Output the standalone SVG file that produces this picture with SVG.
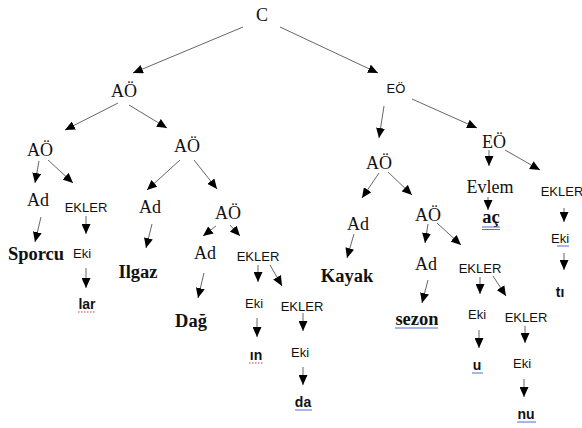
<svg xmlns="http://www.w3.org/2000/svg" width="582" height="428" viewBox="0 0 582 428">
  <defs>
    <marker id="head" markerUnits="userSpaceOnUse" markerWidth="10" markerHeight="9" refX="10" refY="4.5" orient="auto">
      <path d="M0,0 L10,4.5 L0,9 Z" fill="#000"/>
    </marker>
    <style>
      .s { font-family: "Liberation Serif", "Times New Roman", serif; font-size: 18px; fill: #111; text-anchor: middle; }
      .sb { font-family: "Liberation Serif", "Times New Roman", serif; font-size: 18.5px; font-weight: bold; fill: #111; text-anchor: middle; }
      .k { font-family: "Liberation Sans", Arial, sans-serif; font-size: 13px; fill: #111; text-anchor: middle; }
      .kb { font-family: "Liberation Sans", Arial, sans-serif; font-size: 14px; font-weight: bold; fill: #111; text-anchor: middle; }
      .edges line { stroke: #555; stroke-width: 0.9; marker-end: url(#head); }
      .spell { stroke: #d33; stroke-width: 1; stroke-dasharray: 1.5 1.5; fill: none; }
      .gram { stroke: #4a6fd6; stroke-width: 1; fill: none; }
    </style>
  </defs>
  <rect width="582" height="428" fill="#fff"/>

  <g id="edges" class="edges">
    <line x1="243" y1="27" x2="133" y2="73"/>
    <line x1="280" y1="27" x2="378" y2="73"/>
    <line x1="118" y1="103" x2="65" y2="130"/>
    <line x1="129" y1="105" x2="167" y2="128"/>
    <line x1="384" y1="106" x2="379" y2="138"/>
    <line x1="412" y1="99" x2="477" y2="128"/>
    <line x1="39" y1="161" x2="35" y2="183"/>
    <line x1="48" y1="160" x2="73" y2="183"/>
    <line x1="41" y1="217" x2="35" y2="242"/>
    <line x1="86" y1="216" x2="86" y2="234"/>
    <line x1="86" y1="268" x2="86" y2="288"/>
    <line x1="180" y1="160" x2="147" y2="190"/>
    <line x1="194" y1="160" x2="217" y2="189"/>
    <line x1="152" y1="224" x2="146" y2="248"/>
    <line x1="216" y1="226" x2="203" y2="236"/>
    <line x1="230" y1="225" x2="240" y2="236"/>
    <line x1="204" y1="273" x2="198" y2="298"/>
    <line x1="258" y1="265" x2="258" y2="282"/>
    <line x1="270" y1="265" x2="282" y2="286"/>
    <line x1="257" y1="318" x2="257" y2="337"/>
    <line x1="303" y1="313" x2="303" y2="331"/>
    <line x1="303" y1="367" x2="303" y2="385"/>
    <line x1="379" y1="173" x2="362" y2="198"/>
    <line x1="388" y1="172" x2="412" y2="195"/>
    <line x1="354" y1="234" x2="347" y2="258"/>
    <line x1="428" y1="224" x2="425" y2="243"/>
    <line x1="437" y1="223" x2="461" y2="245"/>
    <line x1="428" y1="280" x2="422" y2="303"/>
    <line x1="480" y1="277" x2="480" y2="294"/>
    <line x1="493" y1="276" x2="506" y2="296"/>
    <line x1="479" y1="330" x2="479" y2="348"/>
    <line x1="525" y1="326" x2="525" y2="343"/>
    <line x1="524" y1="379" x2="524" y2="397"/>
    <line x1="489" y1="150" x2="489" y2="166"/>
    <line x1="505" y1="150" x2="540" y2="170"/>
    <line x1="488" y1="197" x2="488" y2="210"/>
    <line x1="564" y1="208" x2="564" y2="222"/>
    <line x1="564" y1="253" x2="564" y2="270"/>
  </g>

  <g id="n-c"><text class="s" x="262" y="21">C</text></g>
  <g id="n-ao1"><text class="s" x="124" y="97">AÖ</text></g>
  <g id="n-eo1"><text class="k" x="396" y="93">EÖ</text></g>

  <g id="n-ao-left"><text class="s" x="40" y="156">AÖ</text></g>
  <g id="n-ad-sporcu"><text class="s" x="38" y="206">Ad</text></g>
  <g id="n-ekler-lar"><text class="k" x="86" y="212">EKLER</text></g>
  <g id="n-sporcu"><text class="sb" x="36" y="260">Sporcu</text></g>
  <g id="n-eki-lar"><text class="k" x="82" y="258">Eki</text></g>
  <g id="n-lar"><text class="kb" x="87" y="309">lar</text><path class="spell" d="M78,312 H96"/></g>

  <g id="n-ao-mid"><text class="s" x="187" y="152">AÖ</text></g>
  <g id="n-ad-ilgaz"><text class="s" x="150" y="213">Ad</text></g>
  <g id="n-ilgaz"><text class="sb" x="138" y="278">Ilgaz</text></g>
  <g id="n-ao-dag"><text class="s" x="228" y="219">AÖ</text></g>
  <g id="n-ad-dag"><text class="s" x="205" y="259">Ad</text></g>
  <g id="n-dag"><text class="sb" x="191" y="327">Dağ</text></g>
  <g id="n-ekler-in"><text class="k" x="258" y="261">EKLER</text></g>
  <g id="n-eki-in"><text class="k" x="254" y="308">Eki</text></g>
  <g id="n-in"><text class="kb" x="256" y="360">ın</text><path class="spell" d="M249,363 H264"/></g>
  <g id="n-ekler-da"><text class="k" x="302" y="311">EKLER</text></g>
  <g id="n-eki-da"><text class="k" x="300" y="357">Eki</text></g>
  <g id="n-da"><text class="kb" x="303" y="407">da</text><path class="gram" d="M295,410 H312"/></g>

  <g id="n-ao-kayak"><text class="s" x="379" y="169">AÖ</text></g>
  <g id="n-ad-kayak"><text class="s" x="358" y="230">Ad</text></g>
  <g id="n-kayak"><text class="sb" x="347" y="282">Kayak</text></g>
  <g id="n-ao-sezon"><text class="s" x="428" y="221">AÖ</text></g>
  <g id="n-ad-sezon"><text class="s" x="426" y="270">Ad</text></g>
  <g id="n-sezon"><text class="sb" x="417" y="325">sezon</text><path class="gram" d="M395,328 H438"/></g>
  <g id="n-ekler-u"><text class="k" x="480" y="273">EKLER</text></g>
  <g id="n-eki-u"><text class="k" x="477" y="319">Eki</text></g>
  <g id="n-u"><text class="kb" x="477" y="370">u</text><path class="gram" d="M472,373 H483"/></g>
  <g id="n-ekler-nu"><text class="k" x="526" y="322">EKLER</text></g>
  <g id="n-eki-nu"><text class="k" x="522" y="368">Eki</text></g>
  <g id="n-nu"><text class="kb" x="526" y="419">nu</text><path class="gram" d="M517,422 H536"/></g>

  <g id="n-eo2"><text class="s" x="494" y="148">EÖ</text></g>
  <g id="n-evlem"><text class="s" x="490" y="193">Evlem</text></g>
  <g id="n-ac"><text class="sb" x="491" y="223">aç</text><path class="gram" d="M482,227 H500 M482,229.5 H500"/></g>
  <g id="n-ekler-ti"><text class="k" x="562" y="196">EKLER</text></g>
  <g id="n-eki-ti"><text class="k" x="560" y="243">Eki</text><path class="gram" d="M557,246 H569"/></g>
  <g id="n-ti"><text class="kb" x="560" y="297">tı</text></g>
</svg>
